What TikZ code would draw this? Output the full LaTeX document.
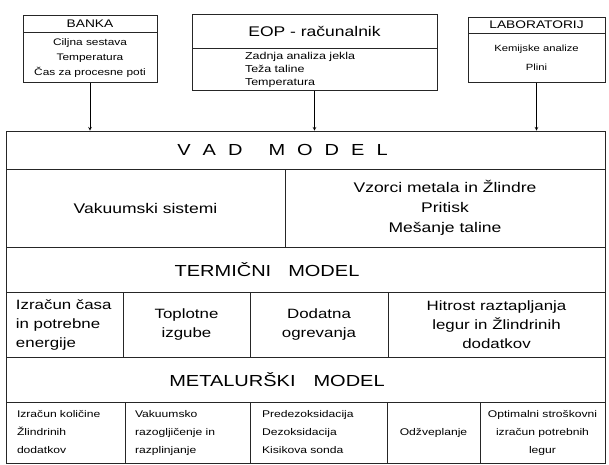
\documentclass[tikz,border=0pt]{standalone}
\usepackage{fontspec}
\setmainfont{Liberation Sans}[FakeStretch=1.25]
\usepackage{tikz}
\usetikzlibrary{shapes,arrows,positioning,calc}

\newcommand{\setfs}[2]{\fontsize{#1}{#2}\selectfont}
\newcommand{\vgap}{\hspace{12pt}}

\begin{document}
\begin{tikzpicture}[
    x=1pt, y=-1pt,
    srcbox/.style={rectangle, draw=black!85, line width=0.7pt, inner sep=0pt, align=center},
    cell/.style={rectangle, draw=black!85, line width=0.9pt, inner sep=0pt, align=center},
    arrow/.style={line width=0.6pt, ->, >=stealth}
]
\useasboundingbox (0,0) rectangle (609,464);

% Sources
\node (banka) [srcbox, minimum width=134pt, minimum height=17pt, font=\setfs{11}{13}] at (90,23.5) {BANKA};
\node (bankadata) [srcbox, below=0pt of banka, minimum width=134pt, minimum height=50pt, font=\setfs{9.5}{15}] {Ciljna sestava\\Temperatura\\Čas za procesne poti};
\node (eop) [srcbox, minimum width=245pt, minimum height=34pt, font=\setfs{14}{16}] at (314.5,31) {EOP - računalnik};
\node (eopdata) [srcbox, below=0pt of eop, minimum width=245pt, minimum height=42pt, text width=139pt, align=left, font=\setfs{10}{13}] {Zadnja analiza jekla\\Teža taline\\Temperatura};
\node (lab) [srcbox, minimum width=137pt, minimum height=16pt, font=\setfs{11}{13}] at (536.5,25) {LABORATORIJ};
\node (labdata) [srcbox, below=0pt of lab, minimum width=137pt, minimum height=49pt, font=\setfs{9}{19}] {Kemijske analize\\Plini};

% VAD model
\node (vad) [cell, minimum width=599pt, minimum height=38pt, font=\setfs{16}{18}] at (305.5,150) {V\vgap A\vgap D\hspace{26pt}M\vgap O\vgap D\vgap E\vgap L\hspace*{46pt}};
\node (vakuum) [cell, minimum width=279pt, minimum height=78pt, font=\setfs{14}{20}] at (145.5,208) {Vakuumski sistemi};
\node (vzorci) [cell, minimum width=320pt, minimum height=78pt, font=\setfs{14}{20}] at (445,208) {Vzorci metala in Žlindre\\Pritisk\\Mešanje taline};

% Termicni model
\node (termicni) [cell, minimum width=599pt, minimum height=45pt, font=\setfs{16}{18}] at (305.5,269.5) {TERMIČNI\hspace{17pt}MODEL\hspace*{77pt}};
\node (energija) [cell, minimum width=117pt, minimum height=65pt, text width=97pt, align=left, font=\setfs{13.5}{19}] at (64.5,324.5) {Izračun časa\\in potrebne\\energije};
\node (izgube) [cell, minimum width=127pt, minimum height=65pt, font=\setfs{13.5}{19}] at (186.5,324.5) {Toplotne\\izgube};
\node (ogrevanje) [cell, minimum width=138pt, minimum height=65pt, font=\setfs{13.5}{19}] at (319,324.5) {Dodatna\\ogrevanja};
\node (hitrost) [cell, minimum width=217pt, minimum height=65pt, font=\setfs{13.5}{19}] at (496.5,324.5) {Hitrost raztapljanja\\legur in Žlindrinih\\dodatkov};

% Metalurski model
\node (metalurski) [cell, minimum width=599pt, minimum height=45pt, font=\setfs{16}{18}] at (305.5,379.5) {METALURŠKI\hspace{18pt}MODEL\hspace*{57pt}};
\node (kolicina) [cell, minimum width=119pt, minimum height=61pt, text width=97pt, align=left, font=\setfs{9.7}{18}] at (65.5,432.5) {Izračun količine\\Žlindrinih\\dodatkov};
\node (razplin) [cell, minimum width=125pt, minimum height=61pt, text width=105pt, align=left, font=\setfs{9.7}{18}] at (187.5,432.5) {Vakuumsko\\razogljičenje in\\razplinjanje};
\node (dezoks) [cell, minimum width=137pt, minimum height=61pt, text width=113pt, align=left, font=\setfs{9.7}{18}] at (318.5,432.5) {Predezoksidacija\\Dezoksidacija\\Kisikova sonda};
\node (zveplo) [cell, minimum width=93pt, minimum height=61pt, font=\setfs{9.7}{18}] at (433.5,432.5) {Odžveplanje};
\node (legure) [cell, minimum width=125pt, minimum height=61pt, font=\setfs{9.7}{18}] at (542.5,432.5) {Optimalni stroškovni\\izračun potrebnih\\legur};

% Arrows
\draw [arrow] (bankadata.south) -- (bankadata.south |- vad.north);
\draw [arrow] (eopdata.south) -- (eopdata.south |- vad.north);
\draw [arrow] (labdata.south) -- (labdata.south |- vad.north);

\end{tikzpicture}
\end{document}
